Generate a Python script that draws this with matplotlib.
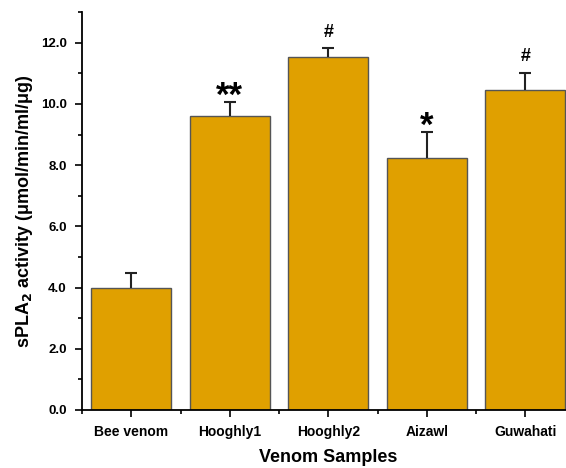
import matplotlib
matplotlib.use('Agg')
import matplotlib.pyplot as plt
from matplotlib.ticker import MultipleLocator, FormatStrFormatter

# data
samples = ["Bee venom", "Hooghly1", "Hooghly2", "Aizawl", "Guwahati"]
activity = [3.98, 9.60, 11.54, 8.22, 10.46]
sem = [0.50, 0.46, 0.28, 0.86, 0.56]
marks = ["", "**", "#", "*", "#"]

plt.rcParams['font.family'] = ['Liberation Sans', 'DejaVu Sans']

fig = plt.figure(figsize=(5.66, 4.68), dpi=100)
ax = fig.add_axes([0.145, 0.124, 0.87, 0.85])

x = list(range(1, len(samples) + 1))
ax.bar(x, activity, width=0.81, color='#E0A000', edgecolor='#555555', linewidth=1.0, zorder=2)
eb = ax.errorbar(x, activity, yerr=[[0] * len(sem), sem], fmt='none', ecolor='#222222',
                 elinewidth=1.5, capsize=4, capthick=1.5, zorder=3)
eb[1][0].set_visible(False)  # only the upper cap

for xi, v, e, m in zip(x, activity, sem, marks):
    if not m:
        continue
    if m == "#":
        ax.text(xi, v + e + 0.25, m, ha='center', va='bottom', fontsize=13, fontweight='bold')
    else:
        ax.text(xi, v + e - 0.35, m, ha='center', va='bottom', fontsize=25, fontweight='bold')

ax.set_xlim(0.5, 5.5)
ax.set_ylim(0, 13)
ax.set_xticks(x)
ax.set_xticklabels(samples, fontsize=10, fontweight='bold')
ax.set_xticks([i + 0.5 for i in range(0, 6)], minor=True)
ax.yaxis.set_major_locator(MultipleLocator(2))
ax.yaxis.set_minor_locator(MultipleLocator(1))
ax.yaxis.set_major_formatter(FormatStrFormatter('%.1f'))
for lab in ax.get_yticklabels():
    lab.set_fontweight('bold')
    lab.set_fontsize(9.5)

ax.tick_params(axis='both', which='major', direction='out', length=5, width=1.2, pad=6)
ax.tick_params(axis='both', which='minor', direction='out', length=3, width=1.2)

for s in ['top', 'right']:
    ax.spines[s].set_visible(False)
for s in ['left', 'bottom']:
    ax.spines[s].set_linewidth(1.3)

ax.set_ylabel("sPLA$_\\mathbf{2}$ activity (\u03bcmol/min/ml/\u03bcg)", fontsize=13, fontweight='bold', labelpad=4)
ax.set_xlabel("Venom Samples", fontsize=13, fontweight='bold', labelpad=7)

fig.savefig('out.png', dpi=100)
